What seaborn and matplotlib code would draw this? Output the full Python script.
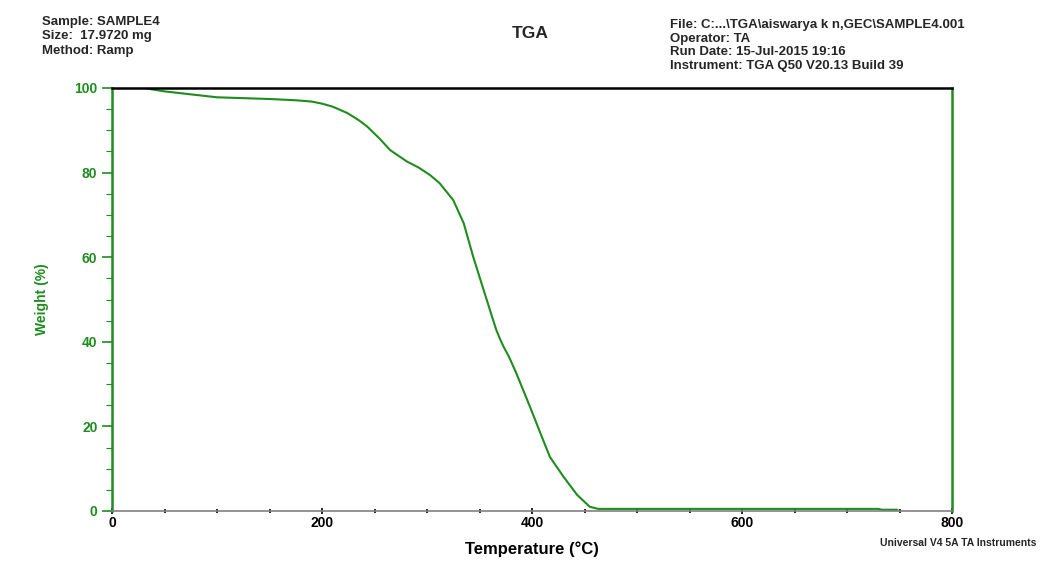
import matplotlib
matplotlib.use("Agg")
import matplotlib.pyplot as plt
import seaborn as sns
import pandas as pd
from matplotlib.ticker import MultipleLocator

temperature = [0, 30, 50, 75, 100, 125, 150, 175, 190, 200, 210, 224, 235, 243, 255, 265,
               281, 292, 303, 312, 325, 335, 344, 354, 362, 366, 370, 373, 378, 385,
               398, 408, 417, 430, 443, 455, 463, 477, 550, 650, 730, 733, 748]
weight = [100.0, 100.0, 99.2, 98.5, 97.8, 97.6, 97.4, 97.1, 96.8, 96.3, 95.6, 94.1, 92.4,
          90.9, 88.0, 85.3, 82.6, 81.2, 79.4, 77.5, 73.5, 68.0, 60.1, 52.2, 45.9, 42.8,
          40.4, 38.8, 36.5, 32.6, 24.7, 18.4, 12.8, 8.1, 3.8, 1.0, 0.5, 0.5, 0.5, 0.5,
          0.5, 0.3, 0.3]

x_ticks = [0, 200, 400, 600, 800]
y_ticks = [0, 20, 40, 60, 80, 100]

left_header = ["Sample: SAMPLE4", "Size:  17.9720 mg", "Method: Ramp"]
right_header = ["File: C:...\\TGA\\aiswarya k n,GEC\\SAMPLE4.001", "Operator: TA",
                "Run Date: 15-Jul-2015 19:16", "Instrument: TGA Q50 V20.13 Build 39"]

sns.set_style("white")
plt.rcParams['font.family'] = ['Liberation Sans', 'DejaVu Sans']

green = "#1e8c1e"
df = pd.DataFrame({"Temperature": temperature, "Weight": weight})

fig = plt.figure(figsize=(10.41, 5.65), dpi=100)
ax = fig.add_axes([112/1041, 1 - 511/565, (952-112)/1041, (511-88)/565])
sns.lineplot(data=df, x="Temperature", y="Weight", ax=ax, color=green, linewidth=1.5)

ax.set_xlim(0, 800)
ax.set_ylim(0, 100)
ax.set_xticks(x_ticks)
ax.set_yticks(y_ticks)
ax.xaxis.set_minor_locator(MultipleLocator(50))
ax.yaxis.set_minor_locator(MultipleLocator(5))

ax.spines['left'].set_color(green)
ax.spines['left'].set_linewidth(1.8)
ax.spines['right'].set_color(green)
ax.spines['right'].set_linewidth(1.8)
ax.spines['top'].set_color('black')
ax.spines['top'].set_linewidth(1.8)
ax.spines['bottom'].set_color('#808080')
ax.spines['bottom'].set_linewidth(1.2)

ax.tick_params(axis='y', which='major', direction='out', length=7, width=1.2,
               color=green, labelcolor=green, labelsize=10, left=True)
ax.tick_params(axis='y', which='minor', direction='out', length=4, width=0.8,
               color=green, left=True)
ax.tick_params(axis='x', which='major', direction='inout', length=5, width=1.2,
               color='black', labelcolor='black', labelsize=10, bottom=True, pad=1)
ax.tick_params(axis='x', which='minor', direction='inout', length=3, width=1.2,
               color='black', bottom=True)
for lbl in ax.get_xticklabels() + ax.get_yticklabels():
    lbl.set_fontweight('bold')

ax.set_xlabel("Temperature (°C)", fontsize=12, fontweight='bold', color='black', labelpad=8)
ax.set_ylabel("Weight (%)", fontsize=10, fontweight='bold', color=green)
ax.yaxis.set_label_coords((49 - 112) / 840, 0.5)

for i, t in enumerate(left_header):
    fig.text(42/1041, 1 - (22 + i*14.5)/565, t, fontsize=9.5, fontweight='bold',
             ha='left', va='center')
for i, t in enumerate(right_header):
    fig.text(670/1041, 1 - (25 + i*13.7)/565, t, fontsize=9.5, fontweight='bold',
             ha='left', va='center')
fig.text(530/1041, 1 - 33/565, "TGA", fontsize=12.5, fontweight='bold', ha='center', va='center')
fig.text(1036/1041, 1 - 543/565, "Universal V4 5A TA Instruments", fontsize=7.5,
         fontweight='bold', ha='right', va='center')

fig.savefig("out.png", dpi=100)
